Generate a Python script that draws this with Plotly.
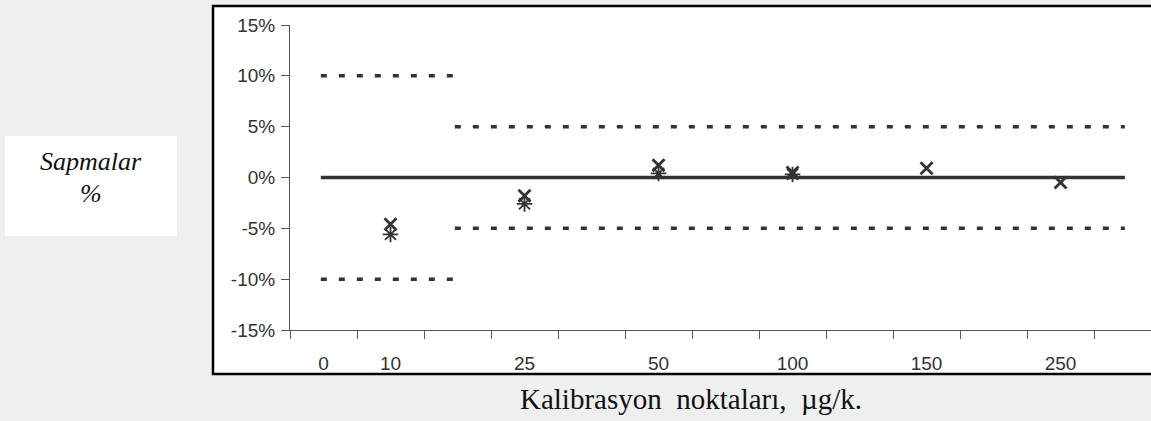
import plotly.graph_objects as go

# ---- data ----
tick_labels = ["0", "10", "25", "50", "100", "150", "250"]
conc = ["10", "25", "50", "100", "150", "250"]
rep_a = [-4.6, -1.8, 1.2, 0.5, 0.9, -0.5]      # "x" markers (%)
rep_b = [-5.6, -2.6, 0.4, 0.3, None, None]     # asterisk markers (%)
limit_low_conc = [10, -10]     # acceptance limits for lowest level (%)
limit_other = [5, -5]          # acceptance limits for other levels (%)
center_line = 0
y_ticks = [15, 10, 5, 0, -5, -10, -15]
y_tick_text = ["15%", "10%", "5%", "0%", "-5%", "-10%", "-15%"]

# ---- layout helpers (slot positions on the axis) ----
slots = {"0": 0.5, "10": 1.5}
for i, lab in enumerate(tick_labels[2:]):
    slots[lab] = 3.5 + 2 * i
xpos = [slots[c] for c in conc]
x_start, x_split, x_end = 0.46, 2.46, 12.46
x_max = 12.85

W, H = 1151, 421
ML, MR, MT, MB = 290, 0, 25, 91
PW, PH = W - ML - MR, H - MT - MB
def px(x):
    return (x - ML) / PW
def py(y):
    return (H - MB - y) / PH

ink = "#333333"
fig = go.Figure()

# limit lines
for v in limit_low_conc:
    fig.add_trace(go.Scatter(x=[x_start, x_split], y=[v, v], mode="lines",
                             line=dict(color=ink, width=3.5, dash="6px,12px"),
                             showlegend=False, hoverinfo="skip"))
for v in limit_other:
    fig.add_trace(go.Scatter(x=[x_split, x_end], y=[v, v], mode="lines",
                             line=dict(color=ink, width=3.5, dash="6px,12px"),
                             showlegend=False, hoverinfo="skip"))
fig.add_trace(go.Scatter(x=[x_start, x_end], y=[center_line, center_line], mode="lines",
                         line=dict(color=ink, width=3.5), showlegend=False, hoverinfo="skip"))

# replicates
fig.add_trace(go.Scatter(x=xpos, y=rep_a, mode="markers", showlegend=False,
                         marker=dict(symbol="x-thin", size=12, line=dict(color=ink, width=2.8))))
fig.add_trace(go.Scatter(x=xpos, y=rep_b, mode="markers", showlegend=False,
                         marker=dict(symbol="asterisk", size=13, line=dict(color=ink, width=1.8))))

# white chart frame and label box
fig.add_shape(type="rect", xref="paper", yref="paper", layer="below",
              x0=px(213), x1=px(1160), y0=py(374), y1=py(6),
              fillcolor="white", line=dict(color="black", width=2.5))
fig.add_shape(type="rect", xref="paper", yref="paper", layer="below",
              x0=px(5), x1=px(177), y0=py(236), y1=py(136),
              fillcolor="white", line=dict(width=0))

serif = "Liberation Serif, Times New Roman, serif"
fig.add_annotation(xref="paper", yref="paper", x=px(91), y=py(161), xanchor="center",
                   yanchor="middle", text="<i>Sapmalar</i>",
                   showarrow=False, font=dict(family=serif, size=26, color="#111"))
fig.add_annotation(xref="paper", yref="paper", x=px(91), y=py(193), xanchor="center",
                   yanchor="middle", text="<i>%</i>",
                   showarrow=False, font=dict(family=serif, size=26, color="#111"))
fig.add_annotation(xref="paper", yref="paper", x=px(691), y=py(399), xanchor="center",
                   yanchor="middle", text="Kalibrasyon  noktaları,  µg/k.",
                   showarrow=False, font=dict(family=serif, size=29, color="#111"))

sans = "Liberation Sans, Arial, sans-serif"
fig.update_layout(
    width=W, height=H,
    margin=dict(l=ML, r=MR, t=MT, b=MB),
    paper_bgcolor="#eef0ef", plot_bgcolor="rgba(0,0,0,0)",
    font=dict(family=sans, size=19, color=ink),
    xaxis=dict(range=[0, x_max], tickmode="array", tickvals=list(range(0, 13)),
               showticklabels=False, ticks="outside", ticklen=8, tickcolor="#555",
               showline=True, linecolor="#555", linewidth=1, showgrid=False, zeroline=False,
               fixedrange=True),
    xaxis2=dict(range=[0, x_max], overlaying="x", anchor="y", side="bottom",
                tickmode="array", tickvals=[slots[l] for l in tick_labels], ticktext=tick_labels,
                ticks="", showline=False, showgrid=False, zeroline=False,
                ticklabelstandoff=20, tickfont=dict(family=sans, size=19, color=ink)),
    yaxis=dict(range=[-15, 15], tickmode="array", tickvals=y_ticks, ticktext=y_tick_text,
               ticks="outside", ticklen=8, tickcolor="#555", showline=True, linecolor="#555",
               linewidth=1, showgrid=False, zeroline=False, ticklabelstandoff=2,
               tickfont=dict(family=sans, size=19, color=ink)),
)
# dummy trace to activate xaxis2
fig.add_trace(go.Scatter(x=[slots["0"]], y=[None], xaxis="x2", showlegend=False, hoverinfo="skip"))

fig.write_html("out.html", config={"displayModeBar": False},
               post_script="document.body.style.margin='0';")
